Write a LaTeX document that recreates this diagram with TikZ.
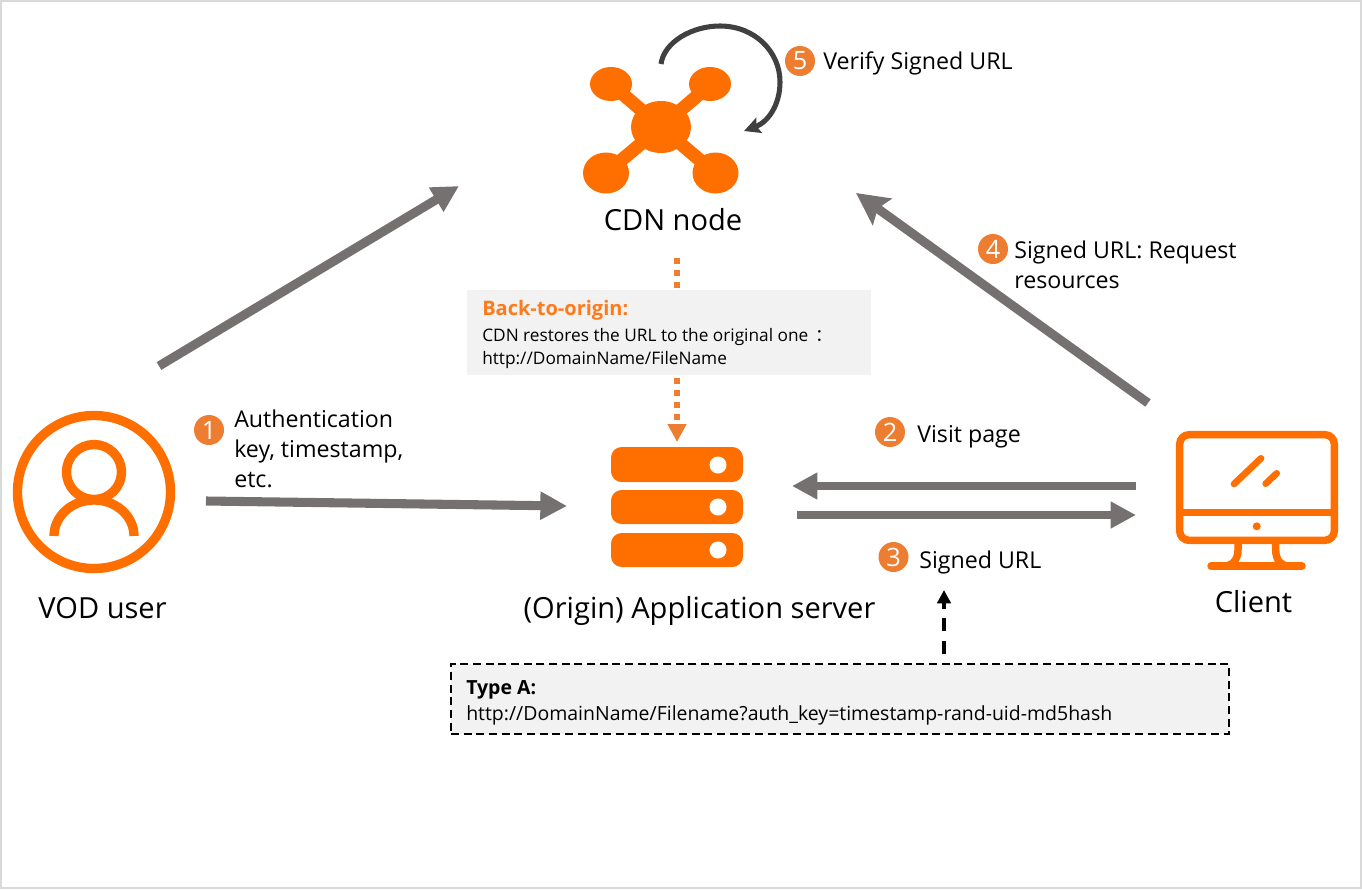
\documentclass[tikz,border=0pt]{standalone}
\usepackage{fontspec}
\setmainfont{Open Sans}
\newfontfamily\cjkfont{Noto Sans CJK SC}
\usepackage{tikz}
\usetikzlibrary{arrows.meta}
\definecolor{iconorange}{HTML}{FF6F00}
\definecolor{badgeorange}{HTML}{ED7D31}
\definecolor{titleorange}{HTML}{FF7A1A}
\definecolor{arrowgray}{HTML}{767171}
\definecolor{loopgray}{HTML}{404040}
\definecolor{boxgray}{HTML}{F2F2F2}
\definecolor{framegray}{HTML}{D9D9D9}
\tikzset{
	flow/.style={line width=6.8pt, arrowgray, -{Triangle[length=20pt,width=20pt]}},
	flowslim/.style={line width=6pt, arrowgray, -{Triangle[length=19pt,width=19pt]}},
	flowlong/.style={line width=6.8pt, arrowgray, -{Stealth[length=24pt,width=24pt,inset=4pt]}},
	badge/.style={circle, fill=badgeorange, text=white, minimum size=22.5pt, inner sep=0pt, font=\fontsize{19}{19}\selectfont},
	label/.style={anchor=base west, inner sep=0pt, font=\fontsize{17.4}{22.5}\selectfont},
	title/.style={anchor=base, inner sep=0pt, font=\fontsize{21.8}{24}\selectfont},
	note/.style={anchor=north west, inner sep=0pt, align=left, font=\fontsize{17.4}{22.5}\selectfont},
	smallnote/.style={anchor=north west, inner sep=0pt, align=left},
	iconline/.style={line width=7pt, iconorange},
}
\begin{document}
\begin{tikzpicture}[x=.75pt,y=-.75pt]
	\useasboundingbox (0,0) rectangle (1362,889);
	\draw[line width=1.5pt, framegray] (1,1) rectangle (1361,888);

	\coordinate (Ua) at (159,366);
	\coordinate (Na) at (459,186);
	\coordinate (Ub) at (206,501);
	\coordinate (Sb) at (567,506);
	\coordinate (Cc) at (1136,486);
	\coordinate (Sc) at (792,486);
	\coordinate (Sd) at (797,515);
	\coordinate (Cd) at (1136,515);
	\coordinate (Ce) at (1148,403);
	\coordinate (Ne) at (856,193);
	\coordinate (Nb) at (677,258);
	\coordinate (Sa) at (677,442);
	\coordinate (La) at (661,64);
	\coordinate (Lb) at (744,131);
	\coordinate (Ta) at (944,590);

	% CDN node
	\draw[line width=10pt, iconorange] (611,84)--(661,127);
	\draw[line width=10pt, iconorange] (711,84)--(661,127);
	\draw[line width=10pt, iconorange] (606,173)--(661,127);
	\draw[line width=10pt, iconorange] (715,173)--(661,127);
	\fill[iconorange] (661,127) ellipse [x radius=30, y radius=26];
	\fill[iconorange] (611,84) ellipse [x radius=21, y radius=17];
	\fill[iconorange] (710,84) ellipse [x radius=21, y radius=17];
	\fill[iconorange] (606,173) ellipse [x radius=23, y radius=20.5];
	\fill[iconorange] (715.5,173) ellipse [x radius=23, y radius=20.5];
	\draw[line width=3.8pt, loopgray, -{Stealth[length=12pt,width=12pt,inset=2pt]}] (La) .. controls (664,42) and (692,26) .. (720,26) .. controls (755,26) and (780,52) .. (780,82) .. controls (780,105) and (768,122) .. (Lb);

	% VOD user
	\draw[iconline] (94,492) circle (76.5);
	\draw[iconline] (94,472) circle (27.5);
	\draw[iconline] (54,536) arc [start angle=180, end angle=0, x radius=30pt, y radius=27pt];

	% server
	\fill[iconorange, rounded corners=8pt] (611,447) rectangle (743,482);
	\fill[iconorange, rounded corners=8pt] (611,490) rectangle (743,524);
	\fill[iconorange, rounded corners=8pt] (611,533) rectangle (743,567);
	\fill[white] (718,465) circle (8.5);
	\fill[white] (718,507) circle (8.5);
	\fill[white] (718,550) circle (8.5);

	% client
	\draw[line width=5.6pt, iconorange, rounded corners=7pt] (1179.7,434.7) rectangle (1334.3,540.3);
	\draw[line width=5.6pt, iconorange] (1176,512.5)--(1338,512.5);
	\fill[iconorange] (1256.7,526.3) circle (4);
	\draw[line width=5pt, iconorange, line cap=round] (1234,484)--(1261,458.3);
	\draw[line width=5pt, iconorange, line cap=round] (1265.7,483.7)--(1276.7,473.3);
	\draw[line width=5.6pt, iconorange] (1238,543) -- (1238,550) .. controls (1238,560) and (1232,566) .. (1224,566);
	\draw[line width=5.6pt, iconorange] (1275.7,543) -- (1275.7,550) .. controls (1275.7,560) and (1281,566) .. (1289,566);
	\draw[line width=5.6pt, iconorange, line cap=round] (1211,566)--(1302,566);

	\draw[line width=4.5pt, badgeorange, dash pattern=on 4.5pt off 4.5pt, -{Triangle[length=13.5pt,width=13.5pt]}] (Nb)--(Sa);

	\node[fill=boxgray, minimum width=303pt, minimum height=63.75pt, inner sep=0pt] (Bo) at (669,332.5) {};
	\node[smallnote, text=titleorange, font=\fontsize{15}{15}\selectfont\bfseries] (Bt) at (482,300) {Back-to-origin:};
	\node[smallnote, font=\fontsize{12.95}{17.2}\selectfont] (Bx) at (482,328) {CDN restores the URL to the original one\hspace{5pt}{\cjkfont ：}\\http://DomainName/FileName};

	\node[draw=black, fill=boxgray, line width=1.5pt, dash pattern=on 6pt off 3.5pt, minimum width=583.5pt, minimum height=52.5pt, inner sep=0pt] (Ty) at (840,699) {};
	\node[smallnote, font=\fontsize{14.6}{14.6}\selectfont\bfseries] (Tt) at (466,680) {Type A:};
	\node[smallnote, font=\fontsize{14.6}{14.6}\selectfont] (Tx) at (466,705) {http://DomainName/Filename?auth\_key=timestamp-rand-uid-md5hash};

	\draw[line width=2.6pt, black, dash pattern=on 10pt off 7pt, -{Triangle[length=10pt,width=10pt]}] (Ty.north -| Ta) ++(0,-9) -- (Ta);

	\draw[flow] (Ua)--(Na);
	\draw[flow] (Ub)--(Sb);
	\draw[flowslim] (Cc)--(Sc);
	\draw[flowslim] (Sd)--(Cd);
	\draw[flowlong] (Ce)--(Ne);

	\node[badge] (Bone) at (209,430) {1};
	\node[badge] (Btwo) at (890,432) {2};
	\node[badge] (Bthree) at (893.5,557) {3};
	\node[badge] (Bfour) at (993,249) {4};
	\node[badge] (Bfive) at (800,61) {5};

	\node[note] (Lone) at (234,410) {Authentication\\key, timestamp,\\etc.};
	\node[label] (Ltwo) at (917,442) {Visit page};
	\node[label] (Lthree) at (919,568) {Signed URL};
	\node[note] (Lfour) at (1014,241) {Signed URL: Request\\resources};
	\node[label] (Lfive) at (823,69) {Verify Signed URL};

	\node[title] (N) at (673,230) {CDN node};
	\node[title] (U) at (102.5,618) {VOD user};
	\node[title] (S) at (699.5,618) {(Origin) Application server};
	\node[title] (C) at (1253.5,612) {Client};
\end{tikzpicture}
\end{document}
